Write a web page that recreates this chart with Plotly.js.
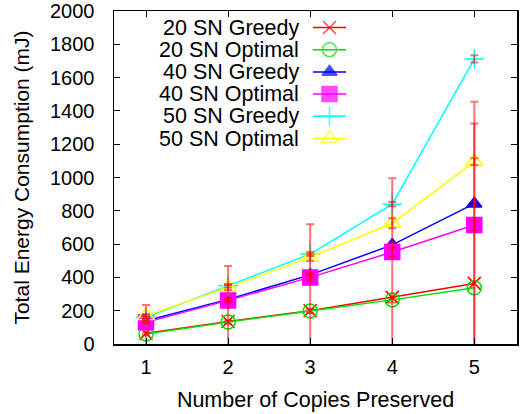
<!DOCTYPE html>
<html>
<head>
<meta charset="utf-8">
<script src="https://cdn.plot.ly/plotly-3.0.1.min.js"></script>
<style>html,body{margin:0;padding:0;background:#fff;}#chart{width:530px;height:414px;}</style>
</head>
<body>
<div id="chart"></div>
<script>
// ---- data ----
const copies = [1, 2, 3, 4, 5];
const seriesNames = ["20 SN Greedy", "20 SN Optimal", "40 SN Greedy", "40 SN Optimal", "50 SN Greedy", "50 SN Optimal"];
const sn20Greedy  = [65, 135, 200, 280, 364];
const sn20Optimal = [60, 132, 198, 265, 338];
const sn40Greedy  = [140, 268, 415, 595, 843];
const sn40Optimal = [130, 262, 400, 552, 715];
const sn50Greedy  = [160, 350, 540, 840, 1712];
const sn50Optimal = [170, 340, 520, 725, 1095];
const err20Greedy  = [169, 333, 519, 715, 961];
const err20Optimal = [8, 10, 12, 15, 1117];
const err40Greedy  = [8, 10, 12, 15, 13];
const err40Optimal = [10, 12, 15, 27, 27];
const err50Greedy  = [8, 10, 12, 13, 22];
const err50Optimal = [10, 15, 20, 30, 20];
const yTicks = [0, 200, 400, 600, 800, 1000, 1200, 1400, 1600, 1800, 2000];

// ---- styles ----
const values = [sn20Greedy, sn20Optimal, sn40Greedy, sn40Optimal, sn50Greedy, sn50Optimal];
const errors = [err20Greedy, err20Optimal, err40Greedy, err40Optimal, err50Greedy, err50Optimal];
const colors = ["#ff0000", "#00e000", "#0000ff", "#ff00ff", "#00ffff", "#ffff00"];
const symbols = ["x-thin-open", "circle-open", "triangle-up", "square", "cross-thin-open", "triangle-up-open"];
const sizes = [13, 14, 13, 15, 14, 15];
const FONT = "Liberation Sans, Arial, Helvetica, sans-serif";

// plot-area pixel frame (for legend placement)
const L = 114, R = 517, T = 11, B = 344;
const px2x = p => (p - L) / (R - L);
const px2y = p => (B - p) / (B - T);

const traces = [];
values.forEach((v, i) => {
  traces.push({
    x: copies, y: v, type: "scatter", mode: "lines+markers",
    line: {color: colors[i], width: 1.5},
    marker: {symbol: symbols[i], size: sizes[i], color: colors[i], line: {color: colors[i], width: 1.5}},
    cliponaxis: false, showlegend: false, name: seriesNames[i]
  });
});
// error bars (drawn in red, on top)
values.forEach((v, i) => {
  traces.push({
    x: copies, y: v, type: "scatter", mode: "markers",
    marker: {size: 1, color: "rgba(0,0,0,0)"},
    error_y: {type: "data", array: errors[i], visible: true, color: "rgba(255,0,0,0.55)", thickness: 2, width: 4},
    showlegend: false, hoverinfo: "skip"
  });
});

// custom legend (text right, key on the right like gnuplot)
const annotations = [];
const legTextRight = 301, keyX0 = 313, keyX1 = 346, rowY0 = 27.5, rowDY = 22.2;
seriesNames.forEach((n, i) => {
  const py = rowY0 + i * rowDY;
  annotations.push({
    xref: "paper", yref: "paper", x: px2x(legTextRight), y: px2y(py),
    xanchor: "right", yanchor: "middle", showarrow: false, text: n,
    font: {family: FONT, size: 21.5, color: "#000"}
  });
  traces.push({
    x: [px2x(keyX0), px2x((keyX0 + keyX1) / 2), px2x(keyX1)], y: [px2y(py), px2y(py), px2y(py)],
    xaxis: "x2", yaxis: "y2", type: "scatter", mode: "lines+markers",
    line: {color: colors[i], width: 1.5},
    marker: {symbol: symbols[i], size: [0, sizes[i], 0], color: colors[i], line: {color: colors[i], width: 1.5}},
    showlegend: false, hoverinfo: "skip", cliponaxis: false
  });
});

const layout = {
  width: 530, height: 414,
  margin: {l: L, r: 530 - R, t: T, b: 414 - B, pad: 0},
  paper_bgcolor: "#fff", plot_bgcolor: "#fff",
  showlegend: false,
  font: {family: FONT, size: 20, color: "#000"},
  xaxis: {
    range: [0.61, 5.52], tickvals: copies, ticktext: copies.map(String),
    ticks: "inside", ticklen: 6, tickwidth: 1, tickcolor: "#000",
    showline: true, linecolor: "#000", linewidth: 1.5, mirror: "allticks",
    showgrid: false, zeroline: false, ticklabelstandoff: 4,
    tickfont: {family: FONT, size: 20},
    title: {text: "Number of Copies Preserved", font: {family: FONT, size: 21.5}, standoff: 15}
  },
  yaxis: {
    range: [0, 2000], tickvals: yTicks, ticktext: yTicks.map(String),
    ticks: "inside", ticklen: 6, tickwidth: 1, tickcolor: "#000",
    showline: true, linecolor: "#000", linewidth: 1.5, mirror: "allticks",
    showgrid: false, zeroline: false, ticklabelstandoff: 14,
    tickfont: {family: FONT, size: 20},
    title: {text: "Total Energy Consumption (mJ)", font: {family: FONT, size: 21}, standoff: 14}
  },
  xaxis2: {overlaying: "x", range: [0, 1], visible: false, fixedrange: true},
  yaxis2: {overlaying: "y", range: [0, 1], visible: false, fixedrange: true},
  annotations: annotations
};

Plotly.newPlot("chart", traces, layout, {displayModeBar: false, staticPlot: true});
</script>
</body>
</html>
